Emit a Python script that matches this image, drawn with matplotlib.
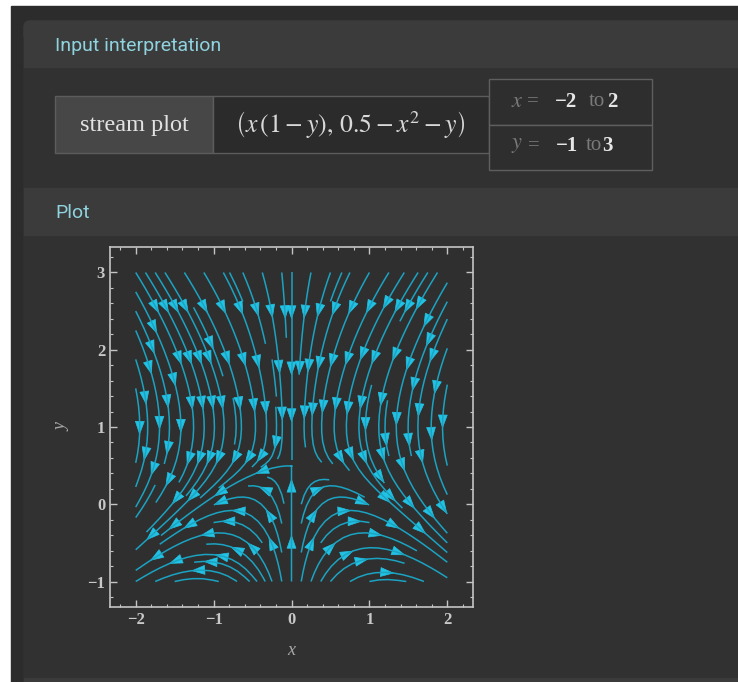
import numpy as np
import matplotlib.pyplot as plt
from matplotlib.patches import Rectangle, FancyBboxPatch, FancyArrowPatch

# plot range and ticks
x_range = [-2, 2]
y_range = [-1, 3]
x_ticks = [-2, -1, 0, 1, 2]
y_ticks = [-1, 0, 1, 2, 3]
offset = 0.5  # constant term in the y component


def field(x, y):
    return x * (1 - y), offset - x ** 2 - y


W, H = 738, 682
fig = plt.figure(figsize=(W / 100, H / 100), dpi=100, facecolor="white")
plt.rcParams["mathtext.fontset"] = "stix"

# page background drawn in pixel coordinates
bg = fig.add_axes([0, 0, 1, 1])
bg.set_xlim(0, W)
bg.set_ylim(H, 0)
bg.axis("off")
bg.add_patch(Rectangle((11, 6), W, H, color="#2c2c2c"))
bg.add_patch(FancyBboxPatch((24, 21), W, H, boxstyle="round,pad=0,rounding_size=6",
                            color="#313131"))
bg.add_patch(Rectangle((24, 27), W, 40, color="#3b3b3b"))
bg.add_patch(FancyBboxPatch((24, 21), W, 20, boxstyle="round,pad=0,rounding_size=6",
                            color="#3b3b3b"))
bg.add_patch(Rectangle((24, 188), W, 47, color="#3b3b3b"))
bg.add_patch(Rectangle((24, 678), W, 10, color="#3b3b3b"))

head = dict(family="Roboto", fontsize=14, color="#8fd3df", va="center", ha="left")
bg.text(55, 46, "Input interpretation", **head)
bg.text(55, 213, "Plot", **head)

# input table
bg.add_patch(Rectangle((55, 96), 158, 57, facecolor="#474747", edgecolor="#5c5c5c", lw=1))
bg.add_patch(Rectangle((213, 96), 276, 57, facecolor="#2b2b2b", edgecolor="#5c5c5c", lw=1))
bg.add_patch(Rectangle((489, 79), 163, 46, facecolor="#2e2e2e", edgecolor="#5f5f5f", lw=1))
bg.add_patch(Rectangle((489, 125), 163, 45, facecolor="#2e2e2e", edgecolor="#5f5f5f", lw=1))
bg.text(134, 126, "stream plot", family="Liberation Serif", fontsize=17.5,
        color="#e2e2e2", ha="center", va="center")
bg.text(350, 125, r"$\left(x\,(1-y),\,0.5-x^2-y\right)$", fontsize=18.5,
        color="#d8d8d8", ha="center", va="center")

dim = dict(family="Liberation Serif", fontsize=15, color="#7a7a7a", va="center", ha="left")
bold = dict(family="Liberation Serif", fontsize=15, color="#e6e6e6", va="center",
            ha="left", weight="bold")
bg.text(511, 101, "$x$", fontsize=16, color="#7a7a7a", va="center", ha="left")
bg.text(527, 102, "=", **dim)
bg.text(555, 102, "\u22122", **bold)
bg.text(589, 102, "to", **dim)
bg.text(607, 102, str(x_range[1]), **bold)
bg.text(511, 145, "$y$", fontsize=16, color="#7a7a7a", va="center", ha="left")
bg.text(528, 146, "=", **dim)
bg.text(556, 146, "\u22121", **bold)
bg.text(586, 146, "to", **dim)
bg.text(602, 146, str(y_range[1]), **bold)

# stream plot
ax = fig.add_axes([110 / W, 1 - 607 / H, 363 / W, 360 / H])
ax.set_facecolor("#2f2f2f")
xs = np.linspace(x_range[0], x_range[1], 120)
ys = np.linspace(y_range[0], y_range[1], 120)
X, Y = np.meshgrid(xs, ys)
U, V = field(X, Y)
sp = ax.streamplot(X, Y, U, V, density=1.1, color="#1ba3c2", linewidth=1.1,
                   arrowstyle="-")
for p in list(ax.patches):
    p.remove()

# join the line segments back into streamlines and put arrows along each one
paths = []
cur = None
for s in sp.lines.get_segments():
    s = np.asarray(s)
    if cur is not None and np.allclose(s[0], cur[-1]):
        cur.extend(s[1:])
    else:
        if cur is not None:
            paths.append(np.array(cur))
        cur = list(s)
paths.append(np.array(cur))

first, step = 0.55, 0.67
for pth in paths:
    d = np.hypot(*np.diff(pth, axis=0).T)
    arc = np.concatenate([[0], np.cumsum(d)])
    for s in np.arange(first, arc[-1] - 0.1, step):
        i = int(np.searchsorted(arc, s))
        i = min(max(i, 1), len(pth) - 1)
        tail, tip = pth[i - 1], pth[i]
        ax.add_patch(FancyArrowPatch(tuple(tail), tuple(tip),
                                     arrowstyle="-|>,head_length=0.9,head_width=0.32",
                                     mutation_scale=10, color="#22c2e4", lw=0.5,
                                     shrinkA=0, shrinkB=0))

pad = 0.33
ax.set_xlim(x_range[0] - pad, x_range[1] + pad)
ax.set_ylim(y_range[0] - pad, y_range[1] + pad)
ax.set_xticks(x_ticks)
ax.set_yticks(y_ticks)
ax.set_xticklabels([str(t).replace("-", "\u2212") for t in x_ticks])
ax.set_yticklabels([str(t).replace("-", "\u2212") for t in y_ticks])
ax.set_xticks(np.arange(-2.2, 2.3, 0.2), minor=True)
ax.set_yticks(np.arange(-1.2, 3.3, 0.2), minor=True)
ax.tick_params(which="both", direction="in", top=True, right=True, color="#c4c4c4")
ax.tick_params(which="major", length=5, width=1, labelsize=12, labelcolor="#c8c8c8")
ax.tick_params(which="minor", length=2.5, width=0.8)
for lab in ax.get_xticklabels() + ax.get_yticklabels():
    lab.set_family("Liberation Serif")
    lab.set_weight("bold")
for s in ax.spines.values():
    s.set_color("#c4c4c4")
    s.set_linewidth(1.2)
ax.set_xlabel("x", family="Liberation Serif", style="italic", fontsize=13,
              color="#a8a8a8", labelpad=10)
ax.set_ylabel("y", family="Liberation Serif", style="italic", fontsize=13,
              color="#a8a8a8", labelpad=12)

fig.savefig("out.png", dpi=100, facecolor=fig.get_facecolor())
